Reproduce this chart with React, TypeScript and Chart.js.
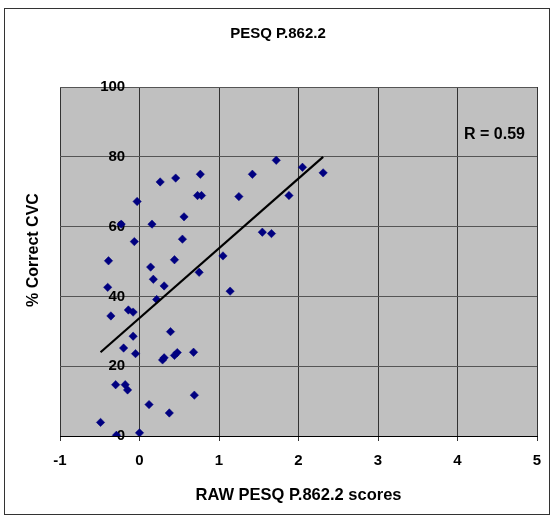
import { useEffect, useRef } from "react";
import { Chart, registerables } from "chart.js";

Chart.register(...registerables);

const rawScores = [
  -0.03, 0.26, 0.455, 0.765, 0.73, 0.78, 1.25, 0.56, 0.157, -0.23,
  -0.065, 0.54, -0.39, 0.44, 1.05, 0.14, 0.75, -0.4, 0.174, 0.31,
  1.14, 0.216, -0.14, -0.08, -0.36, 0.39, -0.08, -0.2, -0.05, 0.29,
  0.31, 0.44, 0.475, 0.68, -0.3, -0.18, -0.15, 0.69, 0.12, 0.375,
  -0.49, -0.29, 0.0, 1.72, 2.05, 2.31, 1.42, 1.88, 1.545, 1.66,
];
const correctCVC = [
  67.2, 72.8, 73.9, 75.0, 68.9, 68.9, 68.6, 62.8, 60.7, 60.7,
  55.7, 56.4, 50.2, 50.5, 51.6, 48.4, 46.9, 42.6, 44.9, 43.0,
  41.5, 39.1, 36.1, 35.5, 34.4, 29.9, 28.6, 25.2, 23.6, 21.8,
  22.4, 23.1, 23.9, 24.0, 14.7, 14.7, 13.2, 11.7, 9.0, 6.6,
  3.9, 0.2, 0.9, 79.0, 77.0, 75.4, 75.0, 68.9, 58.4, 58.0,
];
const trendX = [-0.49, 2.31];
const trendY = [24.0, 80.0];
const xTicks = [-1, 0, 1, 2, 3, 4, 5];
const yTicks = [0, 20, 40, 60, 80, 100];
const chartTitle = "PESQ P.862.2";
const xTitle = "RAW PESQ P.862.2 scores";
const yTitle = "% Correct CVC";
const rLabel = "R = 0.59";

const FONT = "'Liberation Sans', Arial, Helvetica, sans-serif";

const decorPlugin = {
  id: "decor",
  beforeDraw(chart: any) {
    const { ctx, chartArea } = chart;
    ctx.save();
    ctx.fillStyle = "#ffffff";
    ctx.fillRect(0, 0, chart.width, chart.height);
    ctx.fillStyle = "#c0c0c0";
    ctx.fillRect(chartArea.left, chartArea.top, chartArea.right - chartArea.left, chartArea.bottom - chartArea.top);
    ctx.restore();
  },
  afterDraw(chart: any) {
    const { ctx } = chart;
    ctx.save();
    ctx.strokeStyle = "#333333";
    ctx.lineWidth = 1;
    ctx.strokeRect(4.5, 8.5, 545, 506);
    ctx.fillStyle = "#000000";
    ctx.textBaseline = "middle";
    ctx.textAlign = "center";
    ctx.font = `bold 15px ${FONT}`;
    ctx.fillText(chartTitle, 278, 34);
    ctx.font = `bold 16px ${FONT}`;
    ctx.textAlign = "left";
    ctx.fillText(rLabel, 464, 135);
    ctx.translate(34, 250);
    ctx.rotate(-Math.PI / 2);
    ctx.textAlign = "center";
    ctx.fillText(yTitle, 0, 0);
    ctx.restore();
  },
};

export default function App() {
  const ref = useRef<HTMLCanvasElement | null>(null);
  useEffect(() => {
    document.body.style.margin = "0";
    const canvas = ref.current;
    if (!canvas) return;
    const points = rawScores.map((x, i) => ({ x, y: correctCVC[i] }));
    const trend = trendX.map((x, i) => ({ x, y: trendY[i] }));
    const chart = new Chart(canvas, {
      type: "scatter",
      data: {
        datasets: [
          {
            label: "trend",
            data: trend,
            showLine: true,
            borderColor: "#000000",
            borderWidth: 2.2,
            pointRadius: 0,
            pointHoverRadius: 0,
          },
          {
            label: "scores",
            data: points,
            pointStyle: "rectRot",
            pointRadius: 4.2,
            backgroundColor: "#000080",
            borderColor: "#000080",
            borderWidth: 0.5,
          },
        ],
      },
      options: {
        responsive: false,
        animation: false,
        layout: { padding: { left: 60, right: 16, top: 87, bottom: 0 } },
        plugins: {
          legend: { display: false },
          tooltip: { enabled: false },
          title: { display: false },
        },
        scales: {
          x: {
            type: "linear",
            min: -1,
            max: 5,
            afterBuildTicks: (s: any) => {
              s.ticks = xTicks.map((v) => ({ value: v }));
            },
            afterFit: (s: any) => {
              s.height = 84;
            },
            grid: { color: "#333333", lineWidth: 1, tickLength: 5, drawTicks: true },
            border: { color: "#000000", width: 1 },
            ticks: {
              color: "#000000",
              font: { family: FONT, size: 15, weight: "bold" },
              padding: 11,
              maxRotation: 0,
              autoSkip: false,
            },
            title: {
              display: true,
              text: xTitle,
              color: "#000000",
              font: { family: FONT, size: 16.5, weight: "bold" },
              padding: { top: 0, bottom: 15 },
            },
          },
          y: {
            type: "linear",
            axis: "y",
            position: { x: -0.18 },
            min: 0,
            max: 100,
            afterBuildTicks: (s: any) => {
              s.ticks = yTicks.map((v) => ({ value: v }));
            },
            grid: { color: "#555555", lineWidth: 1, drawTicks: false },
            border: { display: false },
            ticks: {
              color: "#000000",
              font: { family: FONT, size: 15, weight: "bold" },
              padding: 0,
              autoSkip: false,
            },
          },
        } as any,
      },
      plugins: [decorPlugin],
    });
    return () => chart.destroy();
  }, []);
  return (
    <div style={{ width: 553, height: 520 }}>
      <canvas ref={ref} width={553} height={520} style={{ display: "block" }} />
    </div>
  );
}
